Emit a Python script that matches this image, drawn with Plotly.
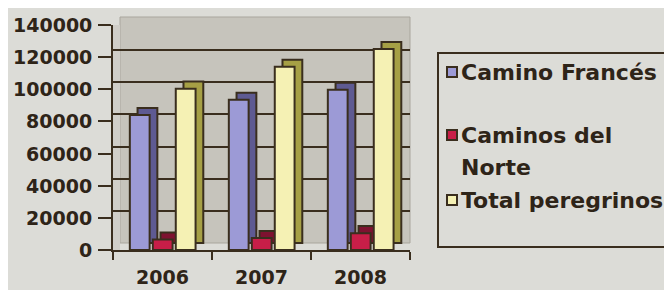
import plotly.graph_objects as go

years = ["2006", "2007", "2008"]
camino_frances = [84000, 93500, 99700]
caminos_norte = [6500, 7500, 10500]
total_peregrinos = [100400, 114000, 125100]
series_names = ["Camino Francés", "Caminos del Norte", "Total peregrinos"]
y_ticks = [0, 20000, 40000, 60000, 80000, 100000, 120000, 140000]

# page is offset by the default 8px body margin
OFF = 8
W, H = 672 - OFF, 290 - OFF
L, R, T, B = 113, 410, 25, 250  # plot area, page pixels
TXT = "#2e2418"
EDGE = "#3a2e1e"
FONT = "DejaVu Sans"
FS = 19
LFS = 22

def px(x):
    return (x - L) / (R - L)

def py(y):
    return (B - y) / (B - T)

fills = ["#9c9ad6", "#c81e48", "#f5f1b4"]
sides = ["#5e5a92", "#7e1230", "#a6a045"]
offsets = [-0.33, -0.098, 0.134]
bw = 0.2
depth_x = 0.078
shift = 4400

fig = go.Figure()
# dummy trace to activate yaxis2 (back-wall gridlines)
fig.add_trace(go.Scatter(x=years, y=[None] * 3, yaxis="y2", showlegend=False, hoverinfo="skip"))
for name, vals, col, sc, off in zip(series_names, [camino_frances, caminos_norte, total_peregrinos],
                                    fills, sides, offsets):
    fig.add_trace(go.Bar(x=years, y=vals, base=[shift] * len(vals), offset=off + depth_x, width=bw,
                         marker=dict(color=sc, line=dict(color=EDGE, width=2)),
                         showlegend=False, hoverinfo="skip"))
    fig.add_trace(go.Bar(x=years, y=vals, name=name, offset=off, width=bw,
                         marker=dict(color=col, line=dict(color=EDGE, width=2)),
                         showlegend=False))

fig.update_layout(
    width=W, height=H,
    margin=dict(l=L - OFF, r=W + OFF - R, t=T - OFF, b=H + OFF - B, pad=0, autoexpand=False),
    paper_bgcolor="#dcdcd7",
    plot_bgcolor="rgba(0,0,0,0)",
    barmode="overlay",
    font=dict(family=FONT, size=FS, color=TXT, weight="bold"),
    xaxis=dict(range=[-0.5, 2.5], showline=True, linecolor=EDGE, linewidth=2, ticks="outside",
               tickson="boundaries", ticklen=8, tickwidth=2, tickcolor=EDGE, showgrid=False,
               automargin=False, ticklabelstandoff=9,
               tickfont=dict(family=FONT, size=FS, color=TXT, weight="bold")),
    yaxis=dict(range=[0, 140000], tickvals=y_ticks, showticklabels=False,
               showline=True, linecolor=EDGE, linewidth=2, ticks="outside", ticklen=13,
               tickwidth=2, tickcolor=EDGE, showgrid=False, zeroline=False, automargin=False),
    yaxis2=dict(range=[-shift, 140000 - shift], tickvals=y_ticks[1:], overlaying="y",
                showticklabels=False, showgrid=True, gridcolor=EDGE, gridwidth=2, zeroline=False,
                showline=False, automargin=False, layer="below traces"),
)

shapes = [
    dict(type="rect", xref="paper", yref="paper", x0=px(120), x1=px(410), y0=py(243), y1=py(17),
         fillcolor="#c6c4bc", line=dict(color="#a9a69d", width=1), layer="below"),
    dict(type="rect", xref="paper", yref="paper", x0=px(113), x1=px(120), y0=py(250), y1=py(25),
         fillcolor="#d0cec8", line=dict(width=0), layer="below"),
    dict(type="rect", xref="paper", yref="paper", x0=px(438), x1=px(669), y0=py(247), y1=py(53),
         fillcolor="rgba(0,0,0,0)", line=dict(color=EDGE, width=2)),
]
annotations = []
# y tick labels placed closer to the ticks, like the original
for v in y_ticks:
    annotations.append(dict(xref="paper", yref="y", x=px(93), y=v, text=str(v), showarrow=False,
                            xanchor="right", yanchor="middle", borderpad=0,
                            font=dict(family=FONT, size=FS, color=TXT, weight="bold")))
legend_rows = [(72, "Camino Francés", 0), (135, "Caminos del", 1), (167, "Norte", None), (200, "Total peregrinos", 2)]
for yc, text, si in legend_rows:
    annotations.append(dict(xref="paper", yref="paper", x=px(460), y=py(yc), text=text, showarrow=False,
                            xanchor="left", yanchor="middle", borderpad=0,
                            font=dict(family=FONT, size=LFS, color=TXT, weight="bold")))
    if si is not None:
        shapes.append(dict(type="rect", xref="paper", yref="paper", x0=px(447), x1=px(457),
                           y0=py(yc + 5), y1=py(yc - 5), fillcolor=fills[si],
                           line=dict(color=EDGE, width=2)))
fig.update_layout(shapes=shapes, annotations=annotations)
fig.write_html("out.html")
